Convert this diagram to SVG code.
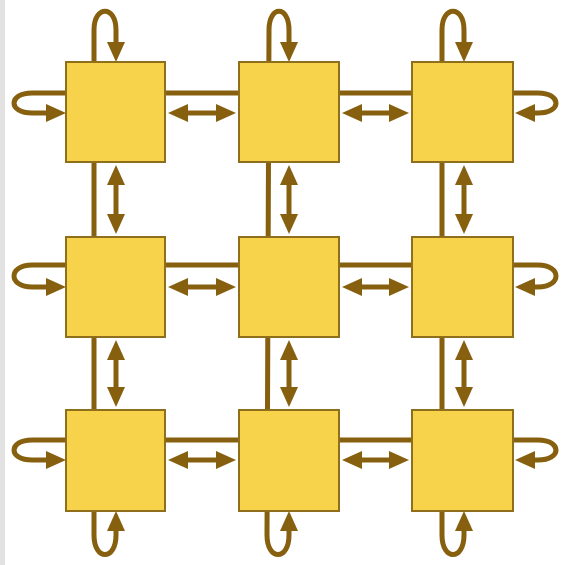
<svg xmlns="http://www.w3.org/2000/svg" width="564" height="565" viewBox="0 0 564 565">
<style>
.sq{fill:#F6D34B;stroke:#8F6E1C;stroke-width:2}
.ln{fill:none;stroke:#86600E;stroke-width:4.5}
.ar{fill:none;stroke:#86600E;stroke-width:5;marker-start:url(#ah);marker-end:url(#ah)}
</style>
<defs>
<marker id="ah" viewBox="0 0 20 18" refX="0" refY="9" markerWidth="20" markerHeight="18" markerUnits="userSpaceOnUse" orient="auto-start-reverse">
<path d="M0,0 L20,9 L0,18 z" fill="#86600E"/>
</marker>
</defs>
<rect width="564" height="565" fill="#ffffff"/>
<rect x="0" y="0" width="5" height="565" fill="#e2e2e2"/>
<g id="wrap">
<path class="ar" d="M46,113 L32,113 C8,113 8,93 32,93 L538,93 C562,93 562,113 538,113 L535,113"/>
<path class="ar" d="M46,287 L32,287 C8,287 8,265 32,265 L538,265 C562,265 562,287 538,287 L535,287"/>
<path class="ar" d="M46,460 L32,460 C8,460 8,440 32,440 L538,440 C562,440 562,460 538,460 L535,460"/>
<path class="ar" d="M116,42 L116,30 C116,5 94,5 94,30 L94,535 C94,561 116,561 116,535 L116,531"/>
<path class="ar" d="M289,42 L289,30 C289,5 269,5 269,30 L267,535 C267,561 289,561 289,535 L289,531"/>
<path class="ar" d="M464,42 L464,30 C464,5 442,5 442,30 L442,535 C442,561 464,561 464,535 L464,531"/>
</g>
<g id="n00"><rect class="sq" x="66" y="62" width="99" height="100"/></g>
<g id="n01"><rect class="sq" x="239" y="62" width="100" height="100"/></g>
<g id="n02"><rect class="sq" x="412" y="62" width="101" height="100"/></g>
<g id="n10"><rect class="sq" x="66" y="237" width="99" height="100"/></g>
<g id="n11"><rect class="sq" x="239" y="237" width="100" height="100"/></g>
<g id="n12"><rect class="sq" x="412" y="237" width="101" height="100"/></g>
<g id="n20"><rect class="sq" x="66" y="410" width="99" height="101"/></g>
<g id="n21"><rect class="sq" x="239" y="410" width="100" height="101"/></g>
<g id="n22"><rect class="sq" x="412" y="410" width="101" height="101"/></g>
<g id="connectors">
<path class="ar" d="M188,113 L216,113"/>
<path class="ar" d="M362,113 L389,113"/>
<path class="ar" d="M188,287 L216,287"/>
<path class="ar" d="M362,287 L389,287"/>
<path class="ar" d="M188,460 L216,460"/>
<path class="ar" d="M362,460 L389,460"/>
<path class="ar" d="M116,185 L116,214"/>
<path class="ar" d="M289,185 L289,214"/>
<path class="ar" d="M464,185 L464,214"/>
<path class="ar" d="M116,360 L116,387"/>
<path class="ar" d="M289,360 L289,387"/>
<path class="ar" d="M464,360 L464,387"/>
</g>
</svg>
